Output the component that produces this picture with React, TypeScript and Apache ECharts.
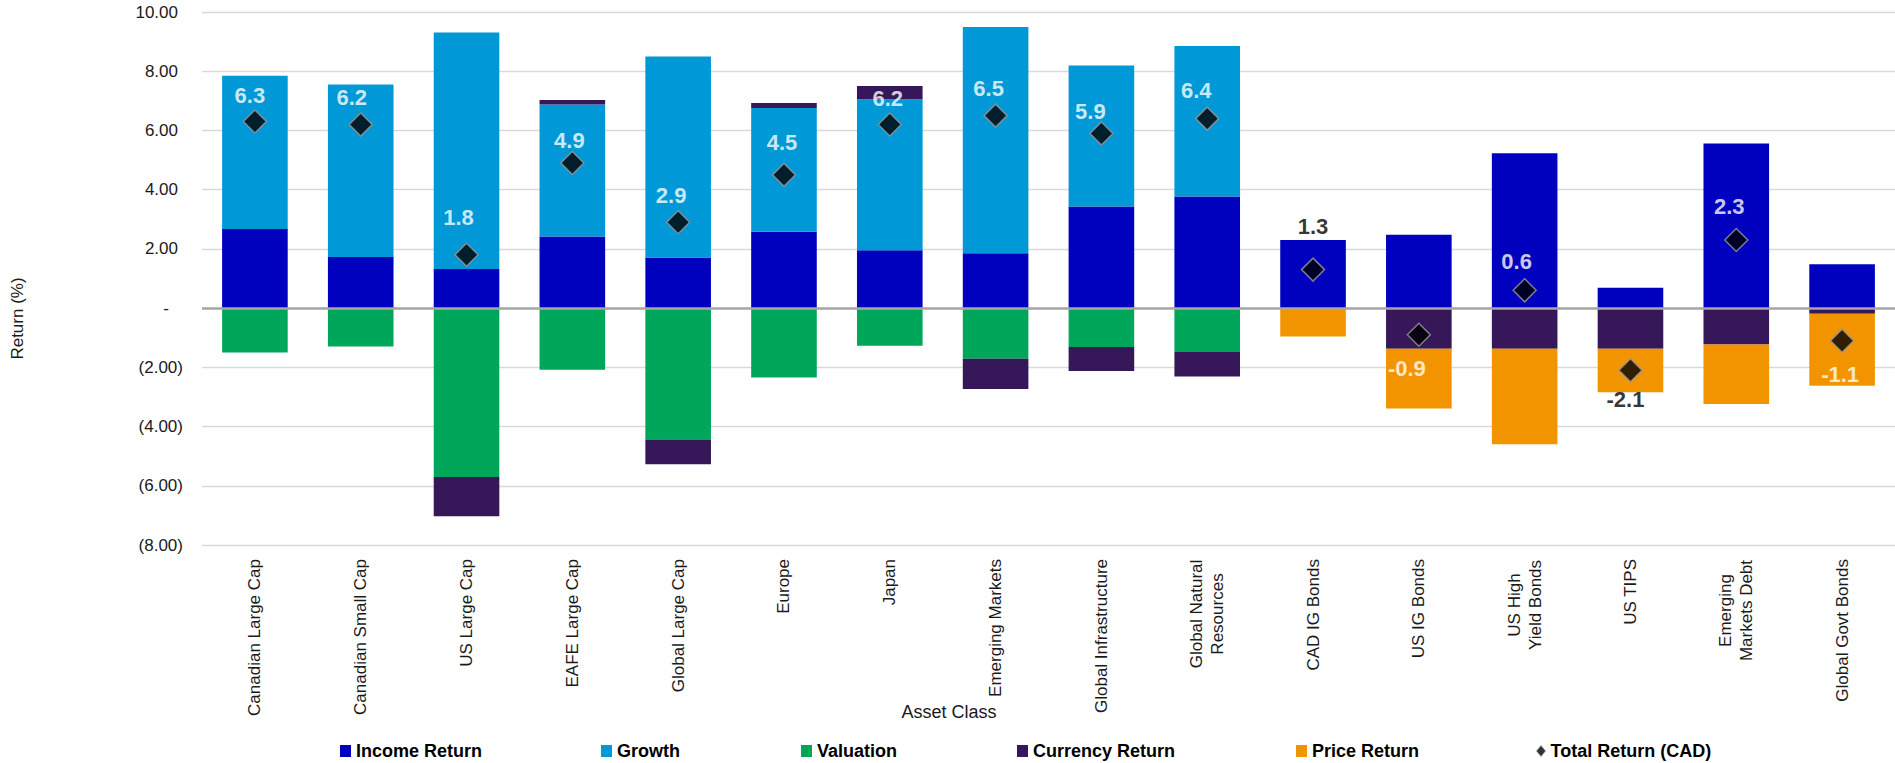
import React, { useEffect, useRef } from 'react';
import * as echarts from 'echarts';

const categories = [
  'Canadian Large Cap',
  'Canadian Small Cap',
  'US Large Cap',
  'EAFE Large Cap',
  'Global Large Cap',
  'Europe',
  'Japan',
  'Emerging Markets',
  'Global Infrastructure',
  'Global Natural\nResources',
  'CAD IG Bonds',
  'US IG Bonds',
  'US High\nYield Bonds',
  'US TIPS',
  'Emerging\nMarkets Debt',
  'Global Govt Bonds',
];

const incomeReturn = [2.67, 1.73, 1.32, 2.42, 1.71, 2.58, 1.95, 1.85, 3.43, 3.77, 2.3, 2.48, 5.23, 0.69, 5.56, 1.48];
const growth = [5.18, 5.82, 7.99, 4.46, 6.79, 4.18, 5.1, 7.64, 4.76, 5.08, null, null, null, null, null, null];
const valuation = [-1.5, -1.3, -5.7, -2.08, -4.44, -2.34, -1.27, -1.71, -1.31, -1.48, null, null, null, null, null, null];
const currencyReturn = [null, null, -1.33, 0.15, -0.83, 0.17, 0.45, -1.02, -0.81, -0.83, null, -1.37, -1.37, -1.37, -1.23, -0.19];
const priceReturn = [null, null, null, null, null, null, null, null, null, null, -0.96, -2.02, -3.23, -1.47, -2.01, -2.43];
const totalReturn = [6.3, 6.2, 1.8, 4.9, 2.9, 4.5, 6.2, 6.5, 5.9, 6.4, 1.3, -0.9, 0.6, -2.1, 2.3, -1.1];

const seriesNames = ['Income Return', 'Growth', 'Valuation', 'Currency Return', 'Price Return', 'Total Return (CAD)'];
const seriesColors = ['#0000BF', '#0098D6', '#00A65A', '#36185A', '#F29400', '#000000'];

const yMin = -8;
const yMax = 10;
const yInterval = 2;

// label placement tweaks (pixel nudges relative to the marker centre)
const totalLabelNudge = [
  [-5, -26], [-9, -27], [-8, -37], [-3, -23], [-7, -27], [-2, -32], [-2, -26], [-7, -27],
  [-11, -22], [-11, -28], [0, -43], [-12, 34], [-8, -29], [-5, 29], [-7, -34], [-2, 34],
];
const darkLabelIdx = [10, 13];

const AX_FONT = '"Liberation Sans", Arial, sans-serif';
const NARROW = '"Liberation Sans Narrow", "Arial Narrow", "Liberation Sans", sans-serif';

function measure(text: string, font: string): number {
  const c = document.createElement('canvas');
  const ctx = c.getContext('2d');
  if (!ctx) return text.length * 9;
  ctx.font = font;
  return ctx.measureText(text).width;
}

export default function App() {
  const ref = useRef<HTMLDivElement>(null);

  useEffect(() => {
    if (!ref.current) return;
    const chart = echarts.init(ref.current, undefined, { renderer: 'svg' });

    const rich: Record<string, any> = {};
    categories.forEach((c, i) => {
      if (c.includes('\n')) {
        const w = Math.max(...c.split('\n').map((l) => measure(l, '17px "Liberation Sans"')));
        rich['m' + i] = { width: Math.ceil(w) + 1, align: 'center', fontSize: 17, fontFamily: AX_FONT, color: '#1a1a1a', lineHeight: 21 };
      }
    });

    const barSeries = [incomeReturn, growth, valuation, currencyReturn, priceReturn].map((d, i) => ({
      name: seriesNames[i],
      type: 'bar',
      stack: 'total',
      barCategoryGap: '38%',
      data: d,
      itemStyle: { color: seriesColors[i] },
      emphasis: { disabled: true },
      ...(i === 4
        ? {
            markLine: {
              silent: true,
              symbol: 'none',
              label: { show: false },
              lineStyle: { color: '#A6A6A6', width: 2.5, type: 'solid' },
              data: [{ yAxis: 0 }],
            },
          }
        : {}),
    }));

    const legendLefts = [335, 596, 796, 1012, 1291, 1531];

    chart.setOption({
      animation: false,
      grid: { left: 202, top: 12, height: 533, width: 1699, containLabel: false },
      legend: seriesNames.map((n, i) => ({
        data: [n],
        left: legendLefts[i],
        top: 737,
        icon: i === 5 ? 'diamond' : 'rect',
        itemWidth: i === 5 ? 9 : 11,
        itemHeight: i === 5 ? 11 : 12,
        selectedMode: false,
        textStyle: { fontFamily: NARROW, fontWeight: 'bold', fontSize: 18, color: '#000' },
        ...(i === 5 ? { itemStyle: { color: '#000', borderColor: '#999', borderWidth: 1 } } : {}),
      })),
      xAxis: {
        type: 'category',
        data: categories,
        axisLine: { show: false, onZero: false },
        axisTick: { show: false },
        axisLabel: {
          rotate: 90,
          interval: 0,
          margin: 14,
          fontSize: 17,
          fontFamily: AX_FONT,
          color: '#1a1a1a',
          lineHeight: 21,
          rich,
          formatter: (v: string, i: number) =>
            v.includes('\n') ? v.split('\n').map((l) => `{m${i}|${l}}`).join('\n') : v,
        },
      },
      yAxis: {
        type: 'value',
        min: yMin,
        max: yMax,
        interval: yInterval,
        name: 'Return (%)',
        nameLocation: 'middle',
        nameRotate: 90,
        nameGap: 176,
        nameTextStyle: {
          fontSize: 17,
          fontFamily: AX_FONT,
          color: '#1a1a1a',
          padding: [0, 80, 0, 0],
        },
        axisLine: { show: false },
        axisTick: { show: false },
        splitLine: { lineStyle: { color: '#D9D9D9', width: 1.3 } },
        axisLabel: {
          margin: 19,
          fontSize: 17,
          fontFamily: AX_FONT,
          color: '#1a1a1a',
          rich: {
            p: { fontSize: 17, fontFamily: AX_FONT, color: '#1a1a1a', padding: [0, 5, 0, 0] },
            z: { fontSize: 17, fontFamily: AX_FONT, color: '#1a1a1a', padding: [0, 14, 0, 0] },
          },
          formatter: (v: number) => {
            if (v === 0) return '{z|-}';
            if (v < 0) return `(${Math.abs(v).toFixed(2)})`;
            return `{p|${v.toFixed(2)}}`;
          },
        },
      },
      graphic: [
        {
          type: 'text',
          x: 949,
          y: 712,
          style: {
            text: 'Asset Class',
            fontSize: 18,
            fontFamily: NARROW,
            fill: '#1a1a1a',
            align: 'center',
            verticalAlign: 'middle',
          },
        },
      ],
      series: [
        ...barSeries,
        {
          name: seriesNames[5],
          type: 'scatter',
          symbol: 'diamond',
          symbolSize: 23,
          z: 5,
          itemStyle: { color: '#000', borderColor: '#9A9A9A', borderWidth: 1.5 },
          emphasis: { disabled: true },
          data: totalReturn.map((v, i) => ({
            value: v,
            label: {
              show: true,
              position: 'inside',
              offset: totalLabelNudge[i],
              formatter: (p: any) => Number(p.value).toFixed(1),
              fontFamily: NARROW,
              fontWeight: 'bold',
              fontSize: 22,
              color: darkLabelIdx.includes(i) ? '#000000' : '#ffffff',
              textBorderWidth: 0,
              textShadowBlur: 0,
            },
          })),
        },
      ],
    });

    return () => chart.dispose();
  }, []);

  return (
    <div
      ref={ref}
      style={{ position: 'absolute', left: 0, top: 0, width: 1895, height: 763, background: '#fff' }}
    />
  );
}
